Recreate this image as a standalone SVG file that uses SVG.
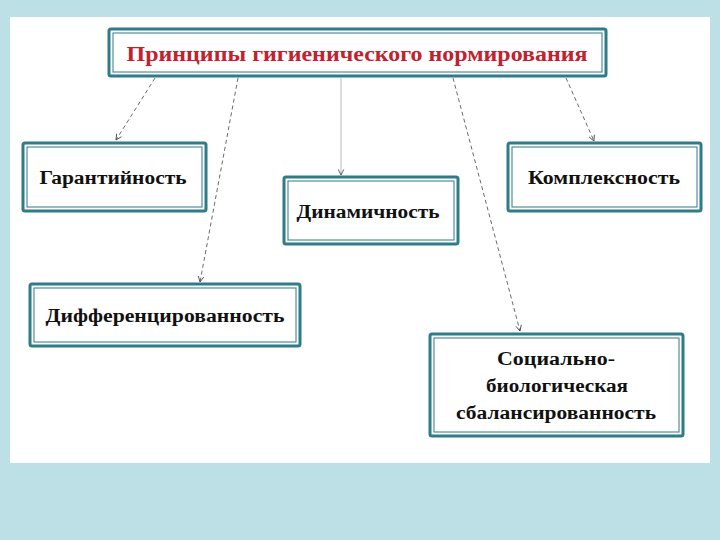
<svg xmlns="http://www.w3.org/2000/svg" width="720" height="540" viewBox="0 0 720 540">
<defs>
<style>
.box{fill:#ffffff;stroke:#2f7b88;stroke-width:3}
.inner{fill:none;stroke:#2f7b88;stroke-width:1}
.t{font-family:"Liberation Serif","Times New Roman",serif;font-weight:bold;font-size:18px;fill:#111;text-anchor:middle}
.title{font-family:"Liberation Serif","Times New Roman",serif;font-weight:bold;font-size:20px;fill:#c4202e;text-anchor:middle}
.c{fill:none;stroke:#444;stroke-width:0.8;stroke-dasharray:4 3}
</style>
<marker id="a" viewBox="0 0 10 10" refX="9" refY="5" markerWidth="7" markerHeight="7" orient="auto" markerUnits="userSpaceOnUse">
<path d="M1,1 L9,5 L1,9" fill="none" stroke="#444" stroke-width="1.2"/>
</marker>
</defs>
<rect x="0" y="0" width="720" height="540" fill="#bde0e6"/>
<rect x="10" y="17" width="700" height="446" fill="#ffffff"/>
<g id="connectors">
<line class="c" x1="155" y1="78" x2="116" y2="140" marker-end="url(#a)"/>
<line class="c" x1="238" y1="78" x2="200" y2="282" marker-end="url(#a)"/>
<line x1="341" y1="78" x2="341" y2="175" fill="none" stroke="#aaa" stroke-width="0.8" marker-end="url(#a)"/>
<line class="c" x1="453" y1="78" x2="520" y2="331" marker-end="url(#a)"/>
<line class="c" x1="566" y1="78" x2="594" y2="141" marker-end="url(#a)"/>
</g>
<g id="title">
<rect class="box" x="109" y="29" width="497" height="47" rx="2"/>
<rect class="inner" x="113" y="33" width="489" height="39"/>
<text class="title" x="357" y="61" textLength="461" lengthAdjust="spacingAndGlyphs">Принципы гигиенического нормирования</text>
</g>
<g id="garant">
<rect class="box" x="23" y="143" width="183" height="68" rx="2"/>
<rect class="inner" x="27" y="147" width="175" height="60"/>
<text class="t" x="113" y="184" textLength="147" lengthAdjust="spacingAndGlyphs">Гарантийность</text>
</g>
<g id="dinam">
<rect class="box" x="284" y="177" width="174" height="67" rx="2"/>
<rect class="inner" x="288" y="181" width="166" height="59"/>
<text class="t" x="368" y="218" textLength="143" lengthAdjust="spacingAndGlyphs">Динамичность</text>
</g>
<g id="kompl">
<rect class="box" x="508" y="143" width="193" height="68" rx="2"/>
<rect class="inner" x="512" y="147" width="185" height="60"/>
<text class="t" x="604" y="184" textLength="152" lengthAdjust="spacingAndGlyphs">Комплексность</text>
</g>
<g id="diff">
<rect class="box" x="30" y="284" width="270" height="62" rx="2"/>
<rect class="inner" x="34" y="288" width="262" height="54"/>
<text class="t" x="165" y="322" textLength="239" lengthAdjust="spacingAndGlyphs">Дифференцированность</text>
</g>
<g id="social">
<rect class="box" x="430" y="334" width="253" height="102" rx="2"/>
<rect class="inner" x="434" y="338" width="245" height="94"/>
<text class="t" x="556" y="365" textLength="118" lengthAdjust="spacingAndGlyphs">Социально-</text>
<text class="t" x="557" y="392" textLength="142" lengthAdjust="spacingAndGlyphs">биологическая</text>
<text class="t" x="556" y="419" textLength="200" lengthAdjust="spacingAndGlyphs">сбалансированность</text>
</g>
</svg>
